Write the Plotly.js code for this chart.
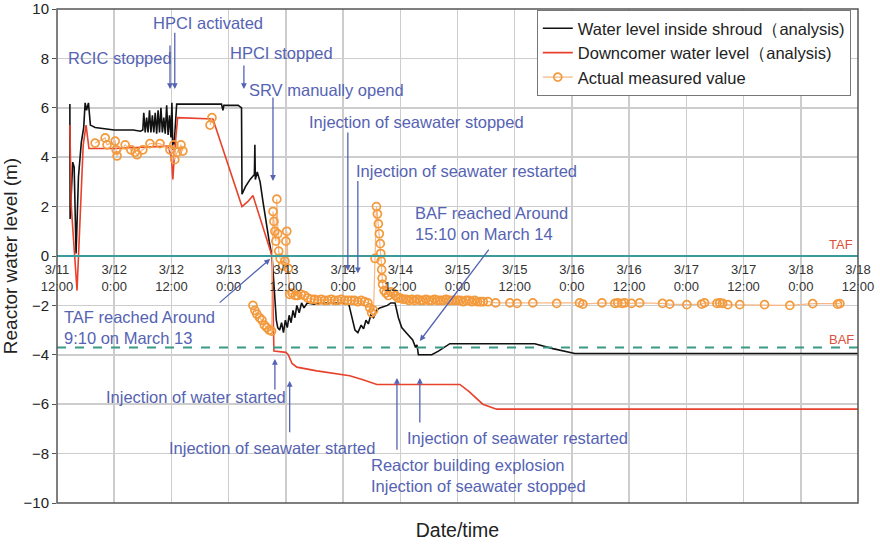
<!DOCTYPE html>
<html><head><meta charset="utf-8">
<script src="https://cdn.plot.ly/plotly-3.0.1.min.js"></script>
<style>html,body{margin:0;padding:0;background:#fff}</style>
</head><body>
<div id="chart" style="width:880px;height:546px"></div>
<script>
// Hours elapsed since 3/11 12:00
const tickHours = [0,12,24,36,48,60,72,84,96,108,120,132,144,156,168];
const tickLabels = ["3/11<br>12:00","3/12<br>0:00","3/12<br>12:00","3/13<br>0:00","3/13<br>12:00","3/14<br>0:00","3/14<br>12:00","3/15<br>0:00","3/15<br>12:00","3/16<br>0:00","3/16<br>12:00","3/17<br>0:00","3/17<br>12:00","3/18<br>0:00","3/18<br>12:00"];

const shroudHours = [2.7,2.75,3.3,3.6,4.0,4.5,5.1,5.6,5.9,6.2,6.6,7.0,8,10,12,14,16,17.5,18.0,18.2,18.5,18.8,19.1,19.4,19.7,20.0,20.3,20.6,20.9,21.2,21.5,21.8,22.1,22.4,22.7,23.0,23.3,23.6,23.9,24.1,24.3,24.6,24.8,25.1,26,30,34.5,34.8,35.0,38.0,38.7,38.8,39.5,40.5,41.0,41.4,41.5,41.6,42.0,42.6,43.2,43.8,44.5,45.1,45.6,46.0,46.3,46.7,47.1,47.5,47.9,48.3,48.7,49.1,49.5,49.9,50.3,50.8,51.3,51.8,52.5,54,56,58,60,61.2,61.8,62.5,63.1,63.8,64.3,64.8,65.3,65.8,66.4,67.0,67.7,68.5,69.3,70.0,70.9,71.6,72.3,73.2,74.6,75.2,75.5,75.8,78.6,80,82.4,90,100.2,104,108.6,168];
const shroudLevel = [6.15,1.5,3.8,3.6,0.1,3.2,4.6,5.2,6.2,5.9,6.2,5.3,5.2,5.15,5.1,5.1,5.1,5.05,5.1,5.8,5.0,5.6,5.0,5.9,5.0,5.7,5.0,5.8,4.95,5.9,5.0,6.0,5.0,5.6,4.95,6.1,4.9,5.7,4.8,6.2,4.3,4.6,5.4,6.15,6.15,6.15,6.15,5.9,6.1,6.1,6.0,2.5,2.8,3.1,3.2,3.3,4.5,3.1,3.4,3.0,2.2,1.4,0.6,0.0,-1.5,-2.6,-2.9,-3.0,-2.7,-3.1,-2.6,-2.9,-2.4,-2.7,-2.2,-2.5,-2.0,-2.3,-1.9,-2.1,-1.9,-1.95,-1.9,-1.9,-1.9,-1.95,-2.5,-3.0,-3.1,-2.8,-2.95,-2.6,-2.75,-2.4,-2.5,-2.2,-2.1,-2.05,-2.0,-1.9,-1.9,-2.5,-2.9,-3.1,-3.4,-3.7,-3.6,-4.0,-4.0,-3.85,-3.55,-3.55,-3.55,-3.75,-3.95,-3.95];

const downcomerHours = [2.7,3.0,4.2,5.0,5.5,6.1,6.7,12,18,23.3,24.0,24.3,24.7,25.3,32.7,38.8,40.0,41.1,45.1,45.3,45.5,48.0,48.5,49.3,50.3,54.5,61.4,64.0,67.1,84.5,86.5,89.3,92.2,168];
const downcomerLevel = [5.3,2.0,-1.4,2.5,4.5,5.3,4.35,4.35,4.4,4.45,4.0,3.1,4.3,5.6,5.55,2.0,2.2,2.45,0.0,-2.0,-3.85,-3.9,-4.0,-4.35,-4.5,-4.65,-4.85,-5.0,-5.2,-5.2,-5.5,-6.0,-6.2,-6.2];

const measuredHours = [8.0,10.1,10.5,12.2,12.4,12.6,14.3,15.5,16.4,16.8,18.0,19.5,21.6,23.7,24.5,24.7,25.2,26.0,26.4,null,32.1,32.5,null,
41.1,41.5,41.9,42.5,43.0,43.5,44.0,44.5,45.0,45.3,45.5,45.7,45.9,46.1,46.3,46.5,46.8,47.3,47.8,48.0,48.2,48.5,48.8,49.3,50.0,50.5,51.2,51.9,52.6,53.3,54.0,54.7,55.4,56.1,56.8,57.5,58.2,58.9,59.6,60.3,61.0,61.7,62.4,63.1,63.8,64.5,65.2,65.6,66.0,66.4,66.7,67.0,67.2,67.4,67.6,67.8,67.9,68.0,68.1,68.2,68.3,68.6,69.0,69.5,70.0,70.5,71.0,71.5,72.0,72.6,73.2,73.8,74.4,75.0,75.6,76.2,76.8,77.4,78.0,78.6,79.2,79.8,80.4,81.0,81.6,82.2,82.8,83.4,84.0,84.6,85.2,85.8,86.4,87.0,87.6,88.2,88.8,89.4,90.4,92.0,95.0,96.5,99.8,104.8,109.6,110.3,114.3,117.0,117.6,118.5,119.1,120.5,122.2,127.0,128.5,132.1,135.2,135.8,138.4,139.0,139.6,140.7,143.2,148.4,153.7,158.5,163.7,164.2,167.7];
const measuredLevel = [4.57,4.78,4.5,4.65,4.3,4.05,4.5,4.3,4.2,4.1,4.3,4.55,4.55,4.3,4.5,3.9,4.2,4.5,4.25,null,5.3,5.6,null,
-2.0,-2.2,-2.35,-2.5,-2.6,-2.8,-2.9,-3.0,-3.04,1.8,1.4,1.0,0.6,2.3,0.9,0.2,-0.1,-0.4,-0.2,0.6,1.0,-0.5,-1.55,-1.5,-1.6,-1.6,-1.55,-1.6,-1.7,-1.75,-1.75,-1.8,-1.75,-1.8,-1.8,-1.75,-1.8,-1.8,-1.75,-1.8,-1.8,-1.8,-1.8,-1.85,-1.8,-1.85,-1.9,-2.1,-2.3,-2.2,-0.1,2.0,1.7,1.3,0.9,0.5,0.1,-0.2,-0.55,-0.9,-1.15,-1.4,-1.5,-1.6,-1.45,-1.5,-1.6,-1.7,-1.7,-1.75,-1.75,-1.8,-1.75,-1.8,-1.75,-1.8,-1.8,-1.75,-1.8,-1.8,-1.75,-1.8,-1.8,-1.8,-1.75,-1.8,-1.8,-1.8,-1.8,-1.8,-1.85,-1.8,-1.8,-1.85,-1.8,-1.85,-1.85,-1.85,-1.85,-1.9,-1.9,-1.92,-1.9,-1.92,-1.9,-1.95,-1.9,-1.92,-1.9,-1.92,-1.9,-1.92,-1.9,-1.92,-1.95,-1.97,-1.95,-1.9,-1.92,-1.9,-1.92,-1.97,-1.97,-1.97,-2.0,-1.93,-1.95,-1.93];

const TAF_LEVEL = 0;
const BAF_LEVEL = -3.7;

const blue = '#5563b3';
const font = 'Liberation Sans, Arial, sans-serif';

const traces = [
  {x: shroudHours, y: shroudLevel, mode:'lines', name:'Water level inside shroud（analysis)', line:{color:'#111111', width:1.6}},
  {x: downcomerHours, y: downcomerLevel, mode:'lines', name:'Downcomer water level（analysis)', line:{color:'#e8412c', width:1.6}},
  {x: measuredHours, y: measuredLevel, mode:'lines+markers', name:'Actual measured value', connectgaps:false,
   line:{color:'#f6b884', width:1.2},
   marker:{symbol:'circle-open', size:8, color:'#f39a3d', line:{width:1.7, color:'#f39a3d'}}}
];

function arrow(hx, hy, tx, ty){
  return {x:hx, y:hy, ax:tx, ay:ty, xref:'x', yref:'y', axref:'x', ayref:'y', text:'', showarrow:true,
    arrowhead:2, arrowsize:0.9, arrowwidth:1.3, arrowcolor:blue};
}
function label(x, y, t, anchor){
  return {x:x, y:y, xref:'x', yref:'y', text:t, showarrow:false, xanchor:anchor||'center', yanchor:'middle', align:anchor==='left'?'left':'center',
    font:{family:font, size:16.5, color:blue}};
}

const annotations = [
  label(13.2, 8.0, 'RCIC stopped'),
  label(31.7, 9.43, 'HPCI activated'),
  label(47.0, 8.2, 'HPCI stopped'),
  label(56.6, 6.72, 'SRV manually opend'),
  label(75.3, 5.42, 'Injection of seawater stopped'),
  label(85.8, 3.44, 'Injection of seawater restarted'),
  label(74.6, 1.3, 'BAF reached Around<br>15:10 on March 14', 'left'),
  label(1.0, -2.9, 'TAF reached Around<br>9:10 on March 13', 'left'),
  label(29.1, -5.7, 'Injection of water started'),
  label(45.1, -7.77, 'Injection of seawater started'),
  label(96.6, -7.37, 'Injection of seawater restarted'),
  label(65.4, -8.9, 'Reactor building explosion<br>Injection of seawater stopped', 'left'),
  arrow(23.7, 6.76, 23.7, 8.58),
  arrow(24.7, 6.76, 24.7, 9.1),
  arrow(39.2, 6.76, 39.2, 7.77),
  arrow(45.3, 3.04, 45.3, 6.48),
  arrow(61.0, -0.6, 61.0, 5.06),
  arrow(63.1, -0.7, 63.1, 3.1),
  arrow(76.1, -3.44, 90.8, 0.32),
  arrow(44.7, -0.12, 33.8, -1.94),
  arrow(45.7, -4.17, 45.7, -5.47),
  arrow(48.8, -5.06, 48.8, -7.2),
  arrow(76.1, -4.94, 76.1, -6.8),
  arrow(71.3, -4.94, 71.3, -7.9),
  {x:164.5, y:0.45, xref:'x', yref:'y', text:'TAF', showarrow:false, font:{family:font, size:13, color:'#e0503c'}},
  {x:164.5, y:-3.4, xref:'x', yref:'y', text:'BAF', showarrow:false, font:{family:font, size:13, color:'#e0503c'}}
];

const shapes = [
  {type:'line', xref:'paper', x0:0, x1:1, yref:'y', y0:TAF_LEVEL, y1:TAF_LEVEL, line:{color:'#3a9a9c', width:2}},
  {type:'line', xref:'paper', x0:0, x1:1, yref:'y', y0:BAF_LEVEL, y1:BAF_LEVEL, line:{color:'#3a9a84', width:2, dash:'dash'}},
  {type:'rect', xref:'paper', yref:'paper', x0:0, x1:1, y0:0, y1:1, line:{color:'#555555', width:1.5}}
];

const layout = {
  width:880, height:546,
  margin:{l:57, r:22, t:9, b:43},
  paper_bgcolor:'#ffffff', plot_bgcolor:'#ffffff',
  font:{family:font, color:'#222'},
  showlegend:true,
  legend:{x:0.991, y:0.998, xanchor:'right', yanchor:'top', bgcolor:'#ffffff', bordercolor:'#777777', borderwidth:1,
    font:{family:font, size:16.5, color:'#222'}, tracegroupgap:0, itemwidth:30},
  xaxis:{range:[0,168], tickvals:tickHours, showticklabels:false, showgrid:true, gridcolor:'#cdcdcd', gridwidth:1.5,
    zeroline:false, showline:false, ticks:'',
    title:{text:'Date/time', font:{family:font, size:19.5, color:'#222'}, standoff:20}},
  xaxis2:{overlaying:'x', matches:'x', range:[0,168], anchor:'free', position:0.5, side:'bottom',
    tickvals:tickHours, ticktext:tickLabels, showgrid:false, zeroline:false, showline:false, ticks:'',
    ticklabelstandoff:4,
    tickfont:{family:font, size:13, color:'#333'}},
  yaxis:{range:[-10,10], dtick:2, tick0:0, showgrid:true, gridcolor:'#cdcdcd', gridwidth:1.5, zeroline:false,
    ticks:'outside', ticklen:4, tickcolor:'#555', showline:false,
    tickfont:{family:font, size:15, color:'#222'},
    title:{text:'Reactor water level (m)', font:{family:font, size:19, color:'#222'}, standoff:0}},
  annotations:annotations,
  shapes:shapes
};

traces.push({x:[], y:[], xaxis:'x2', yaxis:'y', showlegend:false, hoverinfo:'skip', mode:'lines'});

Plotly.newPlot('chart', traces, layout, {displayModeBar:false, staticPlot:true});
</script>
</body></html>
